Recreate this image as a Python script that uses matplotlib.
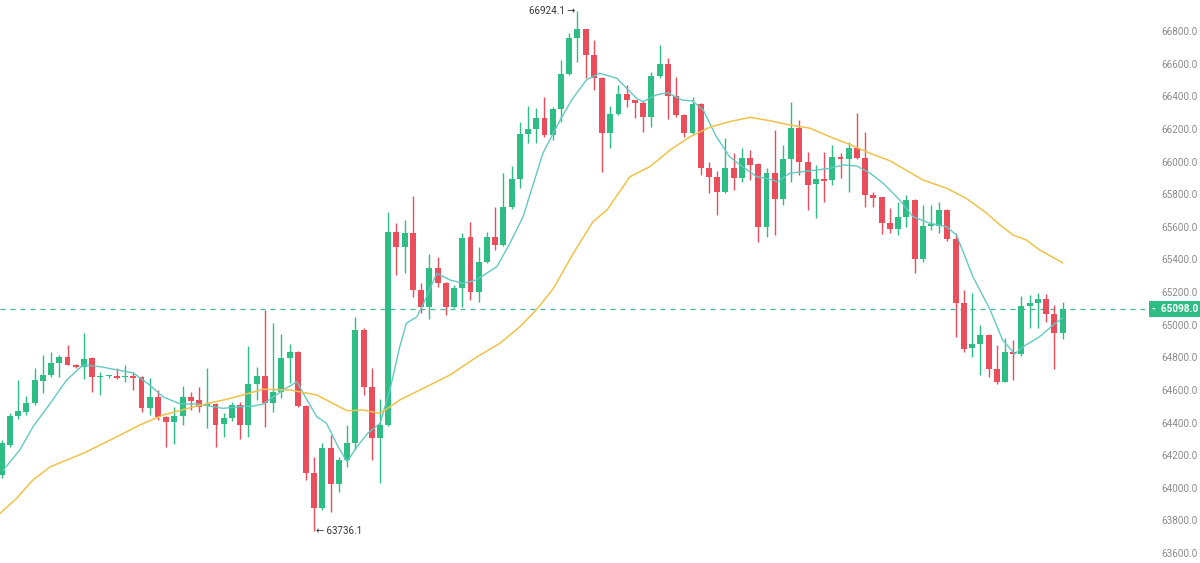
import matplotlib
matplotlib.use('Agg')
import matplotlib.pyplot as plt
import numpy as np

up_col = '#2ebd85'
down_col = '#ea4d5b'

# candle data, one entry per candle
opens = [64078, 64262, 64442, 64466, 64518, 64656, 64691, 64767, 64803, 64753,
         64742, 64794, 64678, 64683, 64687, 64678, 64685, 64677, 64487, 64555,
         64436, 64405, 64442, 64559, 64538, 64501, 64514, 64389, 64430, 64507,
         64385, 64636, 64687, 64518, 64589, 64797, 64834, 64501, 64089, 63878,
         64242, 64021, 64170, 64273, 64967, 64620, 64303, 64385, 65570, 65474,
         65564, 65212, 65110, 65345, 65257, 65110, 65223, 65535, 65202, 65386,
         65539, 65488, 65723, 65891, 66167, 66199, 66265, 66162, 66320, 66536,
         66755, 66810, 66653, 66510, 66177, 66291, 66412, 66377, 66357, 66275,
         66524, 66598, 66402, 66285, 66177, 66352, 65958, 65907, 65815, 65958,
         65897, 66020, 65983, 65600, 65928, 65768, 66014, 66204, 66000, 65862,
         65891, 65887, 66030, 66014, 66081, 66020, 65795, 65780, 65625, 65584,
         65662, 65764, 65400, 65605, 65605, 65703, 65523, 65134, 64855, 64881,
         64936, 64726, 64650, 64834, 64820, 65114, 65134, 65155, 65065, 64947]
highs = [64293, 64460, 64661, 64563, 64732, 64814, 64830, 64814, 64875, 64760,
         64947, 64800, 64712, 64690, 64732, 64753, 64712, 64685, 64671, 64599,
         64440, 64493, 64626, 64585, 64620, 64732, 64520, 64456, 64528, 64528,
         64869, 64742, 65090, 65008, 64943, 64881, 64840, 64505, 64190, 64273,
         64323, 64190, 64385, 65045, 64977, 64732, 64542, 65692, 65621, 65641,
         65789, 65253, 65433, 65416, 65260, 65243, 65560, 65631, 65478, 65570,
         65723, 65928, 65974, 66244, 66340, 66326, 66397, 66336, 66622, 66786,
         66924.1, 66815, 66745, 66515, 66340, 66469, 66469, 66380, 66370, 66551,
         66714, 66633, 66520, 66290, 66397, 66360, 65999, 65944, 66142, 66050,
         66081, 66070, 65990, 65958, 66193, 66101, 66367, 66254, 66060, 65979,
         66060, 66101, 66050, 66121, 66295, 66183, 65815, 65785, 65713, 65754,
         65795, 65770, 65733, 65733, 65754, 65710, 65560, 65212, 65192, 64998,
         64940, 64875, 64916, 64906, 65176, 65182, 65192, 65188, 65120, 65141]
lows = [64058, 64250, 64420, 64446, 64507, 64581, 64681, 64681, 64753, 64735,
        64665, 64589, 64569, 64675, 64665, 64650, 64600, 64466, 64446, 64415,
        64252, 64268, 64385, 64477, 64466, 64365, 64252, 64313, 64411, 64297,
        64313, 64538, 64374, 64466, 64548, 64640, 64495, 64048, 63736.1, 63864,
        63853, 63976, 64129, 64232, 64569, 64170, 64027, 64380, 65304, 65315,
        65168, 65069, 65033, 65233, 65059, 65100, 65110, 65151, 65141, 65376,
        65458, 65480, 65707, 65836, 66112, 66116, 66150, 66132, 66244, 66530,
        66612, 66510, 66438, 65938, 66081, 66285, 66336, 66265, 66183, 66210,
        66510, 66259, 66271, 66148, 66169, 65917, 65805, 65672, 65810, 65825,
        65876, 65887, 65508, 65539, 65549, 65733, 65876, 65917, 65703, 65652,
        65754, 65856, 65897, 65815, 66018, 65723, 65723, 65556, 65560, 65550,
        65600, 65318, 65386, 65580, 65560, 65515, 64926, 64834, 64804, 64691,
        64681, 64636, 64648, 64660, 64808, 64977, 64977, 65018, 64726, 64910]
closes = [64274, 64442, 64470, 64518, 64661, 64691, 64767, 64803, 64753, 64741,
          64788, 64677, 64684, 64687, 64671, 64684, 64673, 64487, 64555, 64436,
          64405, 64442, 64555, 64534, 64493, 64509, 64385, 64430, 64507, 64385,
          64636, 64687, 64518, 64589, 64797, 64834, 64501, 64089, 63878, 64242,
          64021, 64170, 64273, 64967, 64620, 64303, 64385, 65570, 65478, 65564,
          65212, 65110, 65345, 65257, 65110, 65223, 65533, 65202, 65386, 65539,
          65488, 65723, 65891, 66167, 66199, 66265, 66162, 66320, 66536, 66755,
          66810, 66653, 66510, 66177, 66291, 66412, 66377, 66357, 66275, 66524,
          66598, 66402, 66285, 66177, 66352, 65958, 65903, 65815, 65958, 65897,
          66020, 65979, 65600, 65928, 65768, 66014, 66204, 66000, 65856, 65891,
          65883, 66030, 66014, 66081, 66020, 65795, 65774, 65621, 65584, 65662,
          65764, 65400, 65605, 65613, 65703, 65523, 65134, 64849, 64881, 64936,
          64726, 64650, 64834, 64820, 65114, 65134, 65155, 65065, 64947, 65098]

# short moving average (teal), read at points: candle index, price
ma_short_idx = [0.2, 2.2, 3.8, 5.9, 7.9, 9.9, 12.0, 16.0, 18.0, 19.6, 21.7, 23.7,
                25.3, 26.9, 29.0, 30.6, 31.8, 34.2, 35.9, 36.9, 38.3, 39.5, 40.9,
                42.0, 43.2, 44.5, 46.0, 47.2, 48.4, 49.2, 50.5, 51.3, 52.9, 54.5,
                56.1, 57.7, 60.2, 61.8, 63.4, 65.8, 67.9, 69.3, 71.1, 72.7, 74.8,
                77.2, 78.0, 79.6, 81.0, 82.7, 84.0, 85.3, 86.9, 88.5, 90.1, 91.8,
                93.0, 94.4, 95.8, 97.4, 99.1, 100.7, 102.3, 104.0, 105.6, 107.2,
                109.2, 110.8, 112.9, 114.9, 116.1, 118.1, 120.2, 121.7, 123.2,
                124.2, 126.2, 128.1, 129.0]
ma_short_val = [64109, 64232, 64374, 64518, 64661, 64753, 64742, 64704, 64630,
                64558, 64514, 64514, 64501, 64487, 64497, 64501, 64514, 64599,
                64650, 64558, 64436, 64395, 64252, 64160, 64252, 64334, 64395,
                64599, 64865, 65008, 65049, 65131, 65315, 65274, 65253, 65274,
                65355, 65499, 65662, 66050, 66254, 66377, 66500, 66541, 66510,
                66387, 66367, 66408, 66422, 66377, 66371, 66316, 66152, 66030,
                65968, 65907, 65897, 65876, 65928, 65938, 65948, 65958, 65979,
                65972, 65928, 65866, 65764, 65662, 65621, 65600, 65549, 65294,
                65090, 64906, 64820, 64865, 64926, 65008, 65039]

# long moving average (yellow)
ma_long_idx = [-0.2, 1.8, 3.8, 5.9, 7.9, 9.9, 14.0, 16.8, 19.6, 23.7, 27.8, 31.8,
               35.1, 38.3, 42.0, 43.9, 46.0, 47.2, 48.4, 54.5, 57.8, 60.6, 63.0,
               65.0, 67.1, 69.5, 71.9, 73.6, 76.4, 78.8, 81.3, 83.7, 86.1, 88.5,
               91.0, 93.4, 95.8, 98.3, 100.7, 103.1, 105.6, 108.0, 112.0, 114.9,
               117.3, 119.8, 121.4, 123.0, 124.6, 126.2, 129.0]
ma_long_val = [63844, 63935, 64048, 64129, 64170, 64211, 64313, 64385, 64446,
               64501, 64548, 64604, 64599, 64569, 64472, 64477, 64456, 64497,
               64538, 64691, 64803, 64886, 64987, 65090, 65223, 65437, 65631,
               65703, 65907, 65968, 66071, 66152, 66210, 66244, 66271, 66250,
               66224, 66204, 66152, 66105, 66050, 66005, 65887, 65836, 65774,
               65682, 65611, 65549, 65519, 65458, 65380]

yticks = np.arange(63600, 66801, 200)
last_price = 65098.0

fonts = ['Roboto', 'DejaVu Sans']

o = np.array(opens, dtype=float)
h = np.array(highs, dtype=float)
l = np.array(lows, dtype=float)
c = np.array(closes, dtype=float)
x = np.arange(len(o))
cols = np.where(c >= o, up_col, down_col)

fig = plt.figure(figsize=(12, 5.63), dpi=100)
ax = fig.add_axes([0, 0, 0.954, 1])

ax.vlines(x, l, h, colors=cols, linewidth=1, zorder=2)
body_lo = np.minimum(o, c)
body_h = np.maximum(np.abs(c - o), 10)
ax.bar(x, body_h, bottom=body_lo, width=0.72, color=cols, linewidth=0, zorder=3)

ax.plot(ma_short_idx, ma_short_val, color='#62c9c3', linewidth=1, zorder=4)
ax.plot(ma_long_idx, ma_long_val, color='#f0c24a', linewidth=1.1, zorder=4)

# last price line + tag
ax.axhline(last_price, color='#3fb99a', linestyle=(0, (4, 4)), linewidth=0.9, zorder=1)
ax.text(1.006, last_price, '-  %.1f' % last_price, transform=ax.get_yaxis_transform(),
        ha='left', va='center', color='white', fontsize=7.2, fontweight='bold',
        family=fonts, clip_on=False, zorder=6,
        bbox=dict(boxstyle='square,pad=0.3', facecolor=up_col, edgecolor='none'))

# high / low markers
i_hi = int(np.argmax(h))
i_lo = int(np.argmin(l))
ax.text(i_hi - 0.2, h[i_hi], '%.1f \u2192' % h[i_hi], ha='right', va='center',
        fontsize=7, color='#333333', family=fonts)
ax.text(i_lo + 0.2, l[i_lo], '\u2190 %.1f' % l[i_lo], ha='left', va='center',
        fontsize=7, color='#333333', family=fonts)

ax.set_xlim(-0.21, 139.0)
ax.set_ylim(63539, 66990)
ax.yaxis.tick_right()
ax.set_yticks(yticks)
ax.set_yticklabels(['%.1f' % v for v in yticks], fontsize=7.2, color='#8c8c8c', family=fonts)
ax.tick_params(axis='y', length=0, pad=12)
ax.set_xticks([])
for s in ax.spines.values():
    s.set_visible(False)

fig.savefig('out.png', dpi=100)
